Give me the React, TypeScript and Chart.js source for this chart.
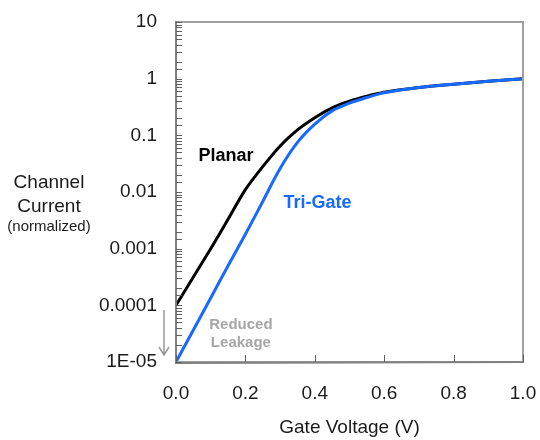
import React, { useEffect, useRef } from "react";
import { Chart, registerables } from "chart.js";

Chart.register(...registerables);

// Gate voltage (V)
const voltage = [0, 0.1, 0.15, 0.2, 0.25, 0.3, 0.35, 0.4, 0.45, 0.5, 0.55, 0.6, 0.7, 0.8, 0.9, 1.0];
// Normalized channel current
const planar = [1e-4, 0.001, 0.0033, 0.011, 0.028, 0.065, 0.125, 0.205, 0.305, 0.4, 0.49, 0.575, 0.7, 0.8, 0.9, 1.0];
const triGate = [1e-5, 1.35e-4, 5e-4, 0.0018, 0.0068, 0.026, 0.075, 0.158, 0.27, 0.37, 0.465, 0.565, 0.7, 0.8, 0.9, 1.0];

const yTickLabels = ["1E-05", "0.0001", "0.001", "0.01", "0.1", "1", "10"];
const xTickLabels = ["0.0", "0.2", "0.4", "0.6", "0.8", "1.0"];

const FONT = "'Liberation Sans', Arial, Helvetica, sans-serif";
const BLUE = "#1769ff";

const decorPlugin = {
  id: "decor",
  afterDraw(chart: any) {
    const { ctx, chartArea, scales } = chart;
    const xs = scales.x;
    const ys = scales.y;
    ctx.save();
    // frame
    ctx.strokeStyle = "#a0a0a0";
    ctx.lineWidth = 2;
    ctx.strokeRect(chartArea.left, chartArea.top, chartArea.right - chartArea.left, chartArea.bottom - chartArea.top);
    ctx.strokeStyle = "#808080";
    ctx.beginPath();
    ctx.moveTo(chartArea.left, chartArea.top - 1);
    ctx.lineTo(chartArea.left, chartArea.bottom + 1);
    ctx.lineTo(chartArea.right + 1, chartArea.bottom);
    ctx.stroke();

    // inner tick marks on y axis
    ctx.strokeStyle = "#606060";
    ctx.lineWidth = 1;
    ys.ticks.forEach((t: any) => {
      const v = t.value;
      const py = Math.round(ys.getPixelForValue(v)) + 0.5;
      ctx.beginPath();
      ctx.moveTo(chartArea.left, py);
      ctx.lineTo(chartArea.left + 6, py);
      ctx.stroke();
    });
    // inner tick marks on x axis
    xs.ticks.forEach((t: any) => {
      const px = Math.round(xs.getPixelForValue(t.value)) + 0.5;
      ctx.beginPath();
      ctx.moveTo(px, chartArea.bottom);
      ctx.lineTo(px, chartArea.bottom - 7);
      ctx.stroke();
    });

    // annotations
    ctx.textAlign = "center";
    ctx.textBaseline = "middle";
    ctx.fillStyle = "#000000";
    ctx.font = `bold 18px ${FONT}`;
    ctx.fillText("Planar", xs.getPixelForValue(0.144), ys.getPixelForValue(0.043));
    ctx.fillStyle = BLUE;
    ctx.fillText("Tri-Gate", xs.getPixelForValue(0.408), ys.getPixelForValue(0.0065));
    ctx.fillStyle = "#a6a6a6";
    ctx.font = `bold 15px ${FONT}`;
    const rlx = xs.getPixelForValue(0.187);
    const rly = ys.getPixelForValue(3.2e-5);
    ctx.fillText("Reduced", rlx, rly - 9);
    ctx.fillText("Leakage", rlx, rly + 9);

    // arrow
    const ax = chartArea.left - 12;
    const ay1 = ys.getPixelForValue(8.3e-5);
    const ay2 = ys.getPixelForValue(1.33e-5);
    ctx.strokeStyle = "#999999";
    ctx.lineWidth = 1.5;
    ctx.beginPath();
    ctx.moveTo(ax, ay1);
    ctx.lineTo(ax, ay2);
    ctx.moveTo(ax - 5, ay2 - 8);
    ctx.lineTo(ax, ay2);
    ctx.lineTo(ax + 5, ay2 - 8);
    ctx.stroke();

    // y title
    ctx.fillStyle = "#1a1a1a";
    ctx.font = `19px ${FONT}`;
    ctx.fillText("Channel", 49, 183);
    ctx.fillText("Current", 49, 207);
    ctx.font = `15px ${FONT}`;
    ctx.fillText("(normalized)", 49, 227);

    // x title
    ctx.font = `19px ${FONT}`;
    ctx.fillText("Gate Voltage (V)", (chartArea.left + chartArea.right) / 2, 428);
    ctx.restore();
  },
};

export default function App() {
  const canvasRef = useRef<HTMLCanvasElement>(null);
  useEffect(() => {
    if (!canvasRef.current) return;
    const chart = new Chart(canvasRef.current, {
      type: "line",
      data: {
        datasets: [
          {
            label: "Tri-Gate",
            data: voltage.map((v, i) => ({ x: v, y: triGate[i] })),
            borderColor: BLUE,
            borderWidth: 3,
            pointRadius: 0,
            tension: 0.35,
            fill: false,
          },
          {
            label: "Planar",
            data: voltage.map((v, i) => ({ x: v, y: planar[i] })),
            borderColor: "#000000",
            borderWidth: 3,
            pointRadius: 0,
            tension: 0.3,
            fill: false,
          },
        ],
      },
      options: {
        responsive: false,
        animation: false,
        layout: { padding: { top: 22, right: 17, left: 0, bottom: 0 } },
        plugins: { legend: { display: false }, tooltip: { enabled: false } },
        scales: {
          x: {
            type: "linear",
            min: 0,
            max: 1,
            grid: { display: false, drawTicks: false },
            border: { display: false },
            afterFit: (s: any) => {
              s.height = 78;
              s.paddingLeft = 0;
              s.paddingRight = 0;
            },
            ticks: {
              stepSize: 0.2,
              padding: 20,
              color: "#1a1a1a",
              font: { family: FONT, size: 19 },
              maxRotation: 0,
              callback: (v: any) => xTickLabels[Math.round(Number(v) / 0.2)],
            },
          },
          y: {
            type: "logarithmic",
            min: 1e-5,
            max: 10,
            grid: { display: false, drawTicks: false },
            border: { display: false },
            afterFit: (s: any) => {
              s.width = 176;
              s.paddingTop = 0;
              s.paddingBottom = 0;
            },
            ticks: {
              autoSkip: false,
              padding: 19,
              color: "#1a1a1a",
              font: { family: FONT, size: 19 },
              callback: (v: any) => {
                const e = Math.log10(Number(v));
                const r = Math.round(e);
                if (Math.abs(e - r) < 1e-6) return yTickLabels[r + 5];
                return "";
              },
            },
          },
        },
      },
      plugins: [decorPlugin],
    });
    return () => chart.destroy();
  }, []);
  return (
    <div style={{ position: "absolute", left: 0, top: 0, width: 540, height: 440 }}>
      <canvas ref={canvasRef} width={540} height={440} style={{ display: "block" }} />
    </div>
  );
}
